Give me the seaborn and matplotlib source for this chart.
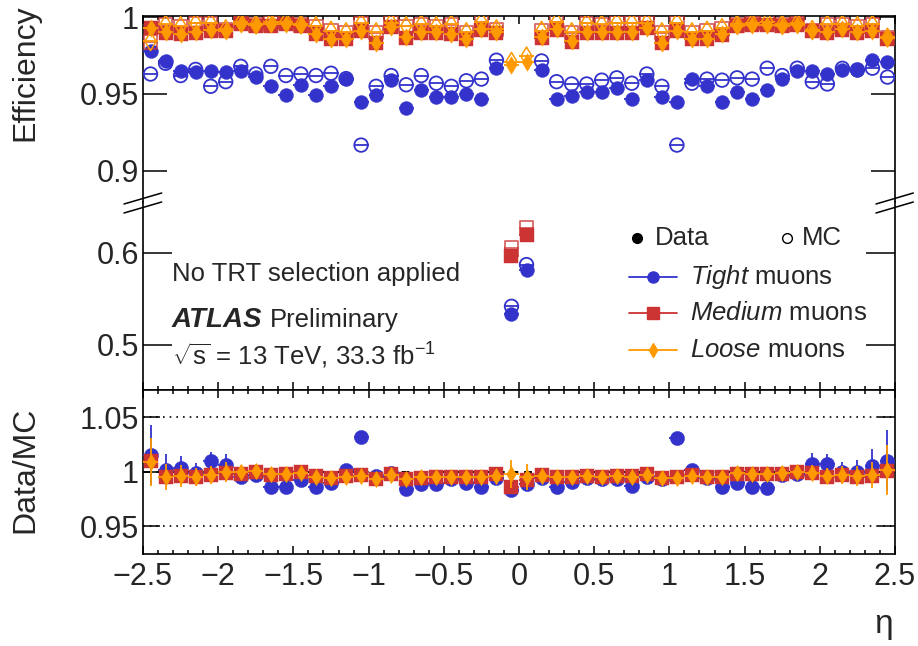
import matplotlib
matplotlib.use("Agg")
import matplotlib.pyplot as plt
from matplotlib.lines import Line2D
from matplotlib.ticker import MultipleLocator
import seaborn as sns

# bin centres in eta
eta = [-2.45, -2.35, -2.25, -2.15, -2.05, -1.95, -1.85, -1.75, -1.65, -1.55,
       -1.45, -1.35, -1.25, -1.15, -1.05, -0.95, -0.85, -0.75, -0.65, -0.55,
       -0.45, -0.35, -0.25, -0.15, -0.05, 0.05, 0.15, 0.25, 0.35, 0.45,
       0.55, 0.65, 0.75, 0.85, 0.95, 1.05, 1.15, 1.25, 1.35, 1.45,
       1.55, 1.65, 1.75, 1.85, 1.95, 2.05, 2.15, 2.25, 2.35, 2.45]

tight_data = [0.978, 0.9715, 0.965, 0.964, 0.965, 0.964, 0.965, 0.961, 0.955, 0.949,
              0.956, 0.949, 0.955, 0.960, 0.945, 0.949, 0.959, 0.941, 0.9526, 0.948,
              0.948, 0.950, 0.947, 0.9666, 0.533, 0.5815, 0.9657, 0.947, 0.9485, 0.9515,
              0.9515, 0.9537, 0.947, 0.959, 0.948, 0.945, 0.9597, 0.955, 0.945, 0.9515,
              0.947, 0.9528, 0.9597, 0.965, 0.965, 0.963, 0.9657, 0.9657, 0.972, 0.971]
tight_mc = [0.963, 0.970, 0.962, 0.966, 0.955, 0.958, 0.968, 0.963, 0.968, 0.962,
            0.963, 0.962, 0.9635, 0.960, 0.9167, 0.955, 0.962, 0.956, 0.962, 0.957,
            0.955, 0.9586, 0.9597, 0.972, 0.5417, 0.587, 0.9715, 0.958, 0.9565, 0.9565,
            0.959, 0.9605, 0.957, 0.963, 0.955, 0.9167, 0.957, 0.9597, 0.959, 0.9605,
            0.9597, 0.9668, 0.962, 0.9668, 0.958, 0.9565, 0.9667, 0.9657, 0.9668, 0.961]
medium_data = [0.993, 0.990, 0.989, 0.990, 0.991, 0.991, 0.9956, 0.9945, 0.9945, 0.9956,
               0.9945, 0.989, 0.9855, 0.9855, 0.991, 0.983, 0.9937, 0.9866, 0.990, 0.990,
               0.989, 0.9855, 0.992, 0.990, 0.596, 0.6196, 0.9866, 0.992, 0.984, 0.990,
               0.990, 0.990, 0.990, 0.9928, 0.983, 0.991, 0.9855, 0.9855, 0.9887, 0.994,
               0.995, 0.995, 0.994, 0.995, 0.991, 0.990, 0.992, 0.990, 0.991, 0.986]
medium_mc = [0.984, 0.995, 0.994, 0.996, 0.996, 0.992, 0.9965, 0.995, 0.9965, 0.997,
             0.995, 0.994, 0.991, 0.990, 0.9958, 0.990, 0.9963, 0.994, 0.995, 0.994,
             0.995, 0.990, 0.9968, 0.992, 0.605, 0.627, 0.991, 0.9968, 0.990, 0.996,
             0.995, 0.9963, 0.9963, 0.9963, 0.990, 0.9963, 0.990, 0.991, 0.9928, 0.995,
             0.996, 0.997, 0.995, 0.996, 0.9915, 0.995, 0.995, 0.994, 0.995, 0.9866]
loose_data = [0.9932, 0.9903, 0.9892, 0.9903, 0.9915, 0.9912, 0.9958, 0.9947, 0.9953, 0.9958,
              0.9947, 0.9893, 0.9858, 0.9858, 0.9912, 0.9833, 0.9939, 0.9868, 0.9903, 0.9903,
              0.9893, 0.9858, 0.9922, 0.9903, 0.969, 0.971, 0.9868, 0.9922, 0.9843, 0.9903,
              0.9903, 0.9903, 0.9903, 0.9930, 0.9833, 0.9913, 0.9858, 0.9858, 0.9889, 0.9942,
              0.9952, 0.9952, 0.9942, 0.9952, 0.9913, 0.9903, 0.9922, 0.9903, 0.9913, 0.9863]
loose_mc = [0.9843, 0.9953, 0.9943, 0.9962, 0.9962, 0.9923, 0.9967, 0.9953, 0.9967, 0.9972,
            0.9953, 0.9943, 0.9913, 0.9903, 0.9960, 0.9903, 0.9965, 0.9943, 0.9953, 0.9943,
            0.9953, 0.9903, 0.9970, 0.9923, 0.971, 0.9745, 0.9913, 0.9970, 0.9903, 0.9962,
            0.9953, 0.9965, 0.9965, 0.9965, 0.9903, 0.9965, 0.9903, 0.9913, 0.9930, 0.9953,
            0.9962, 0.9972, 0.9953, 0.9962, 0.9918, 0.9953, 0.9953, 0.9943, 0.9953, 0.9868]

tight_ratio = [1.0153, 1.0015, 1.003, 0.999, 1.010, 1.006, 0.995, 0.997, 0.9863, 0.986,
               0.992, 0.986, 0.990, 1.0015, 1.0317, 0.996, 0.999, 0.984, 0.989, 0.989,
               0.9935, 0.990, 0.986, 0.994, 0.983, 0.989, 0.994, 0.9863, 0.991, 0.994,
               0.9935, 0.9935, 0.987, 0.995, 0.9935, 1.031, 1.002, 0.9945, 0.986, 0.990,
               0.986, 0.985, 0.997, 0.998, 1.007, 1.007, 1.000, 1.000, 1.005, 1.010]
medium_ratio = [1.0094, 0.995, 0.996, 0.995, 0.997, 0.999, 0.998, 1.000, 0.997, 0.998,
                1.000, 0.996, 0.994, 0.996, 0.997, 0.993, 0.998, 0.9935, 0.994, 0.995,
                0.995, 0.995, 0.9955, 0.998, 0.9863, 0.992, 0.997, 0.995, 0.995, 0.996,
                0.9955, 0.996, 0.996, 0.998, 0.994, 0.995, 0.997, 0.995, 0.995, 0.998,
                0.998, 0.998, 0.998, 1.000, 0.999, 0.995, 0.997, 0.995, 0.996, 1.001]
loose_ratio = [1.009, 0.995, 0.996, 0.995, 0.997, 1.000, 1.000, 1.001, 0.998, 0.998,
               0.999, 0.995, 0.994, 0.9954, 0.996, 0.993, 0.997, 0.993, 0.995, 0.9954,
               0.995, 0.995, 0.9954, 0.996, 0.998, 0.9954, 0.996, 0.995, 0.995, 0.996,
               0.9954, 0.996, 0.9954, 0.997, 0.994, 0.994, 0.996, 0.995, 0.995, 0.999,
               0.998, 0.998, 0.999, 1.000, 0.999, 0.996, 0.997, 0.996, 0.997, 1.0015]

tight_ratio_err = [0.027, 0.015, 0.011, 0.009, 0.008, 0.010, 0.005, 0.004, 0.003, 0.003,
                   0.003, 0.003, 0.003, 0.003, 0.003, 0.003, 0.003, 0.003, 0.003, 0.003,
                   0.003, 0.003, 0.003, 0.003, 0.006, 0.006, 0.003, 0.003, 0.003, 0.003,
                   0.003, 0.003, 0.003, 0.003, 0.003, 0.003, 0.003, 0.003, 0.003, 0.003,
                   0.003, 0.003, 0.004, 0.005, 0.010, 0.009, 0.009, 0.011, 0.016, 0.028]
medium_ratio_err = [0.008, 0.005, 0.004, 0.004, 0.004, 0.004, 0.003, 0.003, 0.003, 0.003,
                    0.003, 0.003, 0.003, 0.003, 0.003, 0.003, 0.003, 0.003, 0.003, 0.003,
                    0.003, 0.003, 0.003, 0.003, 0.005, 0.005, 0.003, 0.003, 0.003, 0.003,
                    0.003, 0.003, 0.003, 0.003, 0.003, 0.003, 0.003, 0.003, 0.003, 0.003,
                    0.003, 0.003, 0.003, 0.003, 0.004, 0.004, 0.004, 0.004, 0.005, 0.008]
loose_ratio_err = [0.022, 0.012, 0.010, 0.008, 0.008, 0.009, 0.006, 0.006, 0.004, 0.004,
                   0.004, 0.004, 0.004, 0.004, 0.004, 0.004, 0.004, 0.004, 0.004, 0.004,
                   0.004, 0.004, 0.004, 0.004, 0.013, 0.012, 0.004, 0.004, 0.004, 0.004,
                   0.004, 0.004, 0.004, 0.004, 0.004, 0.004, 0.004, 0.004, 0.004, 0.004,
                   0.005, 0.005, 0.006, 0.006, 0.007, 0.007, 0.008, 0.009, 0.012, 0.023]

blue = "#3333cc"
red = "#cc3333"
orange = "#ff9900"

sns.set_theme(style="ticks")
plt.rcParams["font.family"] = ["Liberation Sans", "DejaVu Sans"]
plt.rcParams["mathtext.fontset"] = "custom"
plt.rcParams["mathtext.rm"] = "Liberation Sans"
plt.rcParams["mathtext.it"] = "Liberation Sans:italic"
plt.rcParams["mathtext.bf"] = "Liberation Sans:bold"

W, H = 918, 646
fig = plt.figure(figsize=(W / 100, H / 100), dpi=100)


def box(x0, y0, x1, y1):
    # pixel box -> figure fraction
    return [x0 / W, 1 - y1 / H, (x1 - x0) / W, (y1 - y0) / H]


ax_hi = fig.add_axes(box(143, 15.7, 895, 202))
ax_lo = fig.add_axes(box(143, 202, 895, 390))
ax_r = fig.add_axes(box(143, 390, 895, 554))


def draw(ax, y, color, marker, size, filled, yerr=None, z=3, alpha=1.0, lw=1.3):
    ax.errorbar(eta, y, xerr=0.05, yerr=yerr, fmt="none", ecolor=color,
                elinewidth=1.3, capsize=0, zorder=z, alpha=alpha)
    if filled:
        sns.scatterplot(x=eta, y=y, ax=ax, marker=marker, s=size, color=color,
                        edgecolor=color, linewidth=0.3, zorder=z + 0.5,
                        alpha=alpha, legend=False)
    else:
        sns.scatterplot(x=eta, y=y, ax=ax, marker=marker, s=size, facecolor="none",
                        edgecolor=color, linewidth=lw, zorder=z + 0.5,
                        alpha=alpha, legend=False)


for ax in (ax_hi, ax_lo):
    draw(ax, tight_mc, blue, "o", 95, False, z=3)
    draw(ax, tight_data, blue, "o", 100, True, z=4)
    draw(ax, medium_mc, red, "s", 95, False, z=5, alpha=0.75)
    draw(ax, medium_data, red, "s", 90, True, z=6)
    draw(ax, loose_mc, orange, "d", 90, False, z=7, lw=1.1)
    draw(ax, loose_data, orange, "d", 80, True, z=8)

draw(ax_r, tight_ratio, blue, "o", 105, True, yerr=tight_ratio_err, z=3)
draw(ax_r, medium_ratio, red, "s", 95, True, yerr=medium_ratio_err, z=4)
draw(ax_r, loose_ratio, orange, "d", 70, True, yerr=loose_ratio_err, z=5)

ax_r.axhline(1.0, color="black", ls=(0, (4, 3)), lw=1.4, zorder=2)
for yv in (0.95, 1.05):
    ax_r.axhline(yv, color="black", ls=(0, (1, 3)), lw=1.2, zorder=1)

ax_hi.set_ylim(0.8796, 1.001)
ax_lo.set_ylim(0.4508, 0.655)
ax_r.set_ylim(0.9248, 1.0747)

for ax in (ax_hi, ax_lo, ax_r):
    ax.set_xlim(-2.5, 2.5)
    ax.set_xlabel("")
    ax.set_ylabel("")
    ax.xaxis.set_major_locator(MultipleLocator(0.5))
    ax.xaxis.set_minor_locator(MultipleLocator(0.1))
    ax.tick_params(axis="x", which="both", direction="in", top=True, bottom=True,
                   color="black", width=1.1)
    ax.tick_params(axis="x", which="major", length=6)
    ax.tick_params(axis="x", which="minor", length=3)
    ax.tick_params(axis="y", which="both", direction="in", left=True, right=True,
                   color="black", width=1.1, labelsize=22, pad=3)
    for sp in ax.spines.values():
        sp.set_color("black")
        sp.set_linewidth(1.2)

# broken axis: no ticks on the break
ax_hi.spines["bottom"].set_visible(False)
ax_hi.tick_params(axis="x", which="both", bottom=False, labelbottom=False)
ax_lo.spines["top"].set_visible(False)
ax_lo.tick_params(axis="x", which="both", top=False, labelbottom=False)
ax_r.tick_params(axis="x", labelsize=22, pad=6)

ax_hi.set_yticks([0.9, 0.95, 1.0], ["0.9", "0.95", "1"])
ax_hi.tick_params(axis="y", length=17)
ax_lo.set_yticks([0.5, 0.6], ["0.5", "0.6"])
ax_lo.tick_params(axis="y", length=21)
ax_r.set_yticks([0.95, 1.0, 1.05], ["0.95", "1", "1.05"])
ax_r.tick_params(axis="y", length=12)
ax_r.set_xticks([-2.5, -2, -1.5, -1, -0.5, 0, 0.5, 1, 1.5, 2, 2.5],
               ["\u22122.5", "\u22122", "\u22121.5", "\u22121", "\u22120.5", "0",
                "0.5", "1", "1.5", "2", "2.5"])

ax_hi.set_ylabel("Efficiency", fontsize=23, loc="top")
ax_hi.yaxis.set_label_coords((25 - 143) / 752, (202 - 4) / 186.3)
ax_hi.yaxis.label.set_va("center")
ax_r.set_ylabel("Data/MC", fontsize=23)
ax_r.yaxis.set_label_coords((25 - 143) / 752, (554 - 470) / 164)
ax_r.yaxis.label.set_va("center")
ax_r.set_xlabel("\u03b7", fontsize=24, loc="right")
ax_r.xaxis.set_label_coords((893 - 143) / 752, (554 - 625) / 164)
ax_r.xaxis.label.set_va("center")

# axis break marks
for (x0, x1) in ((124, 161.7), (876, 913.3)):
    for dy in (0, 9):
        fig.add_artist(Line2D([x0 / W, x1 / W], [1 - (204 + dy) / H, 1 - (193 + dy) / H],
                              color="black", lw=1.1, transform=fig.transFigure))


def fx(px):
    return px / W


def fy(py):
    return 1 - py / H


fs = 18.5
fig.text(fx(172), fy(281), "No TRT selection applied", fontsize=fs)
fig.text(fx(172), fy(327), "ATLAS", fontsize=20, weight="bold", style="italic")
fig.text(fx(270), fy(327), "Preliminary", fontsize=fs)
fig.text(fx(172), fy(365), r"$\sqrt{\mathrm{s}}$ = 13 TeV, 33.3 fb$^{-1}$", fontsize=fs)

# legend
fig.add_artist(Line2D([fx(636.7)], [fy(238.3)], marker="o", ms=7, color="black",
                      ls="none", transform=fig.transFigure))
fig.text(fx(655), fy(238.3), "Data", fontsize=fs, va="center")
fig.add_artist(Line2D([fx(786.7)], [fy(238.3)], marker="o", ms=7, mfc="none",
                      mec="black", mew=1.0, ls="none", transform=fig.transFigure))
fig.text(fx(802), fy(238.3), "MC", fontsize=fs, va="center")

entries = [("Tight", blue, "o", 8, 277.3), ("Medium", red, "s", 8, 313.3),
           ("Loose", orange, "d", 7, 350)]
for name, col, mk, ms, ypx in entries:
    fig.add_artist(Line2D([fx(629), fx(677)], [fy(ypx), fy(ypx)], color=col, lw=1.3,
                          transform=fig.transFigure))
    fig.add_artist(Line2D([fx(653)], [fy(ypx)], marker=mk, ms=ms, color=col, ls="none",
                          transform=fig.transFigure))
    fig.text(fx(690), fy(ypx), r"$\mathit{" + name + r"}$ muons", fontsize=fs, va="center")

fig.savefig("out.png", dpi=100)
